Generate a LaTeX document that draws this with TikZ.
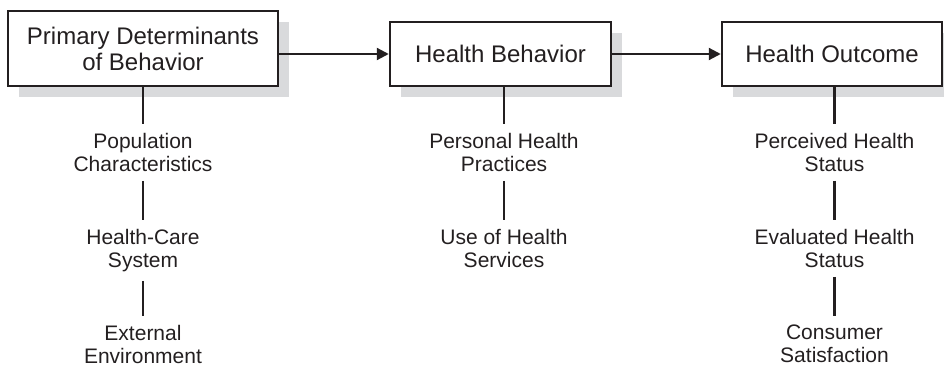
\documentclass[tikz,border=0pt]{standalone}
\usepackage{fontspec}
\setmainfont{Liberation Sans}
\usetikzlibrary{arrows.meta,shadows}
\definecolor{ink}{HTML}{231F20}
\definecolor{shadowgray}{HTML}{D9DADC}
\tikzset{
  mainbox/.style={draw=ink, line width=2.5pt, fill=white, text=ink, align=center,
    inner sep=0pt, font=\fontsize{24}{26}\selectfont,
    drop shadow={shadow xshift=10.5pt, shadow yshift=-11pt, fill=shadowgray, opacity=1}},
  item/.style={text=ink, align=center, inner xsep=0pt, inner ysep=9pt, anchor=north,
    font=\fontsize{21}{23}\selectfont},
  link/.style={draw=ink, line width=2.2pt},
  flow/.style={draw=ink, line width=2.2pt, -{Triangle[length=12pt,width=12pt]}}
}
\begin{document}
\begin{tikzpicture}[x=1pt,y=-1pt]
\useasboundingbox (0,0) rectangle (944,366);
\node[mainbox, minimum width=270pt, minimum height=75pt] (b1) at (143,48.5) {Primary Determinants\\of Behavior};
\node[mainbox, minimum width=221pt, minimum height=64pt] (b2) at (500.5,54) {Health Behavior};
\node[mainbox, minimum width=220pt, minimum height=64pt] (b3) at (832,54) {Health Outcome};

\node[item] (p1) at (143,124) {Population\\Characteristics};
\node[item] (p2) at (143,220) {Health-Care\\System};
\node[item] (p3) at (143,316) {External\\Environment};

\node[item] (q1) at (504,124) {Personal Health\\Practices};
\node[item] (q2) at (504,220) {Use of Health\\Services};

\node[item] (r1) at (834.5,124) {Perceived Health\\Status};
\node[item] (r2) at (834.5,220) {Evaluated Health\\Status};
\node[item] (r3) at (834.5,316) {Consumer\\Satisfaction};

\draw[flow] (b1.east |- b2.west) -- (b2.west);
\draw[flow] (b2.east) -- (b3.west);

\draw[link] (p1.north |- b1.south) -- (p1.north);
\draw[link] (p1.south) -- (p2.north);
\draw[link] (p2.south) -- (p3.north);
\draw[link] (q1.north |- b2.south) -- (q1.north);
\draw[link] (q1.south) -- (q2.north);
\draw[link] (r1.north |- b3.south) -- (r1.north);
\draw[link] (r1.south) -- (r2.north);
\draw[link] (r2.south) -- (r3.north);
\end{tikzpicture}
\end{document}
